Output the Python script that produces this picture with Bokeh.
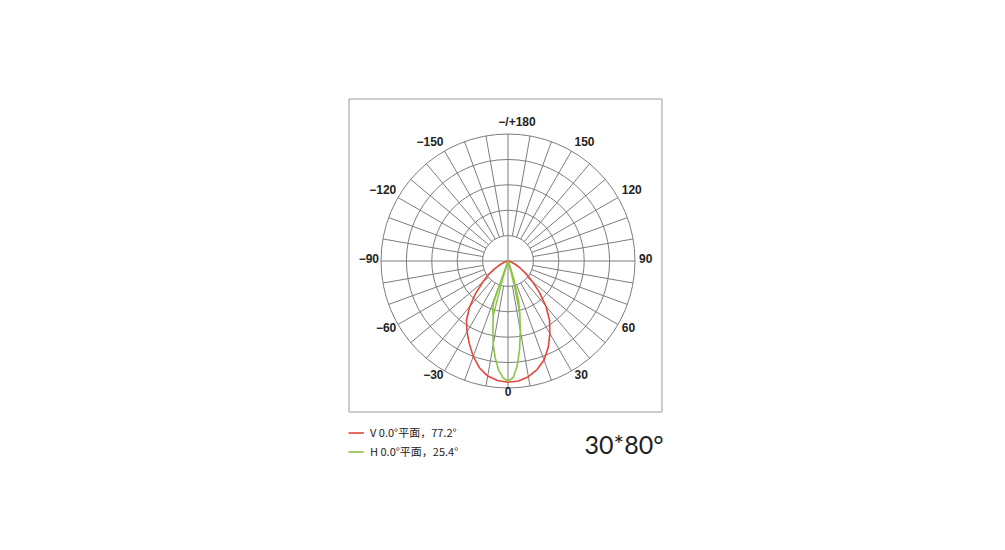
import numpy as np
from bokeh.plotting import figure
from bokeh.models import Range1d, Legend, LegendItem, ColumnDataSource
from bokeh.embed import file_html
from bokeh.resources import INLINE
from bokeh.core.properties import value

# ---------------- data ----------------
tick_angles = [0, 30, 60, 90, 120, 150, 180, -150, -120, -90, -60, -30]
tick_labels = ["0", "30", "60", "90", "120", "150", "−/+180", "−150", "−120", "−90", "−60", "−30"]
ring_levels = [0.2, 0.4, 0.6, 0.8, 1.0]
spoke_angles = list(range(0, 360, 10))

# V plane (red): relative intensity vs angle (0 = straight down, + = right)
v_angles = [-90, -85, -80, -75, -70, -65, -60, -55, -50, -45, -40, -35, -30, -25, -20, -15, -10, -5,
            0, 5, 10, 15, 20, 25, 30, 35, 40, 45, 50, 55, 60, 65, 70, 75, 80, 85, 90]
v_values = [0, 0, 0.005, 0.015, 0.035, 0.07, 0.12, 0.19, 0.26, 0.36, 0.47, 0.57, 0.645, 0.72, 0.80, 0.87, 0.92, 0.945,
            0.955, 0.948, 0.925, 0.885, 0.83, 0.75, 0.66, 0.57, 0.465, 0.35, 0.25, 0.17, 0.11, 0.065, 0.035, 0.015, 0.005, 0, 0]

# H plane (green)
h_angles = [-90, -25, -20, -19.5, -19, -17.5, -15, -12.5, -10, -7.5, -5, -2.5,
            0, 2.5, 5, 7.5, 10, 12.5, 15, 17.5, 20, 22.5, 25, 90]
h_values = [0, 0, 0.05, 0.2, 0.35, 0.40, 0.45, 0.55, 0.67, 0.77, 0.86, 0.92,
            0.945, 0.92, 0.83, 0.70, 0.56, 0.43, 0.32, 0.17, 0.06, 0.02, 0, 0]
# second (inner) trace of the H plane near the lamp
h_inner_angles = [-15, -15.5, -16, -16.5, -17, 16, 15, 14, 13, 12.5]
h_inner_values = [0.45, 0.32, 0.2, 0.1, 0, 0, 0.1, 0.22, 0.35, 0.43]

legend_labels = ["V 0.0°平面，77.2°", "H 0.0°平面，25.4°"]
badge_text = "30*80°"

V_COLOR = "#e5463c"
H_COLOR = "#8cc443"
GRID_COLOR = "#7d7d7d"

# ---------------- layout helpers ----------------
W, H = 989, 534
CXP, CYP, SC = 507.5, 260.5, 127.0   # page pixel centre & pixels per unit


def X(px):
    return (px - CXP) / SC


def Y(py):
    return (CYP - py) / SC


def polar(angles, values):
    a = np.radians(np.asarray(angles, dtype=float))
    r = np.asarray(values, dtype=float)
    return r * np.sin(a), -r * np.cos(a)


p = figure(width=W, height=H,
           x_range=Range1d(X(0), X(W)), y_range=Range1d(Y(H), Y(0)),
           toolbar_location=None, output_backend="svg", min_border=0,
           x_axis_type=None, y_axis_type=None,
           outline_line_color=None, background_fill_color="white", border_fill_color="white")

# frame box
p.quad(left=[X(348.5)], right=[X(661.5)], top=[Y(98.5)], bottom=[Y(411.5)],
       fill_color=None, line_color="#9b9b9b", line_width=1)

# rings
p.circle(x=[0] * len(ring_levels), y=[0] * len(ring_levels), radius=ring_levels,
         fill_color=None, line_color=GRID_COLOR, line_width=1)

# spokes
xs, ys = [], []
for a in spoke_angles:
    r0 = 0.0 if a % 90 == 0 else ring_levels[0]
    sx, sy = polar([a, a], [r0, ring_levels[-1]])
    xs.append(list(sx))
    ys.append(list(sy))
p.multi_line(xs=xs, ys=ys, line_color=GRID_COLOR, line_width=1)

# angle labels
lr = ring_levels[-1] + 2.0 / SC
lx, ly = polar(tick_angles, [lr] * len(tick_angles))
aligns, bases, xoffs = [], [], []
for a, t in zip(tick_angles, tick_labels):
    s, c = np.sin(np.radians(a)), np.cos(np.radians(a))
    aligns.append("center" if abs(s) < 0.1 else ("left" if s > 0 else "right"))
    bases.append("top" if c > 0.45 else ("bottom" if c < -0.45 else "middle"))
    xoffs.append(9 if t.startswith("−/+") else (2 if s > 0.1 else 0))
lab_src = ColumnDataSource(dict(x=lx, y=ly, text=tick_labels, align=aligns, base=bases, xo=xoffs))
p.text(x="x", y="y", text="text", source=lab_src, text_align="align", text_baseline="base",
       x_offset="xo", y_offset=-3,
       text_font=value("Liberation Sans"), text_font_style="bold", text_font_size="12px",
       text_color="#231f20")

# curves
vx, vy = polar(v_angles, v_values)
hx, hy = polar(h_angles, h_values)
hix, hiy = polar(h_inner_angles, h_inner_values)
rv = p.line(vx, vy, line_color=V_COLOR, line_width=1.6)
rh = p.line(hx, hy, line_color=H_COLOR, line_width=1.6)
p.line(hix, hiy, line_color=H_COLOR, line_width=1.4)

legend = Legend(items=[LegendItem(label=legend_labels[0], renderers=[rv]),
                       LegendItem(label=legend_labels[1], renderers=[rh])],
                location=(348, 75), orientation="vertical",
                glyph_width=16, glyph_height=13, label_height=13, spacing=3, label_standoff=6,
                padding=0, margin=0, border_line_color=None, background_fill_alpha=0,
                label_text_font="Noto Sans CJK SC", label_text_font_size="11px",
                label_text_color="#222222")
p.add_layout(legend)

# beam badge
p.text(x=[X(584)], y=[Y(443)], text=[badge_text], text_align="left", text_baseline="middle",
       text_font=value("Lato"), text_font_size="25px", text_color="#231f20")

open("out.html", "w").write(file_html(p, INLINE))
